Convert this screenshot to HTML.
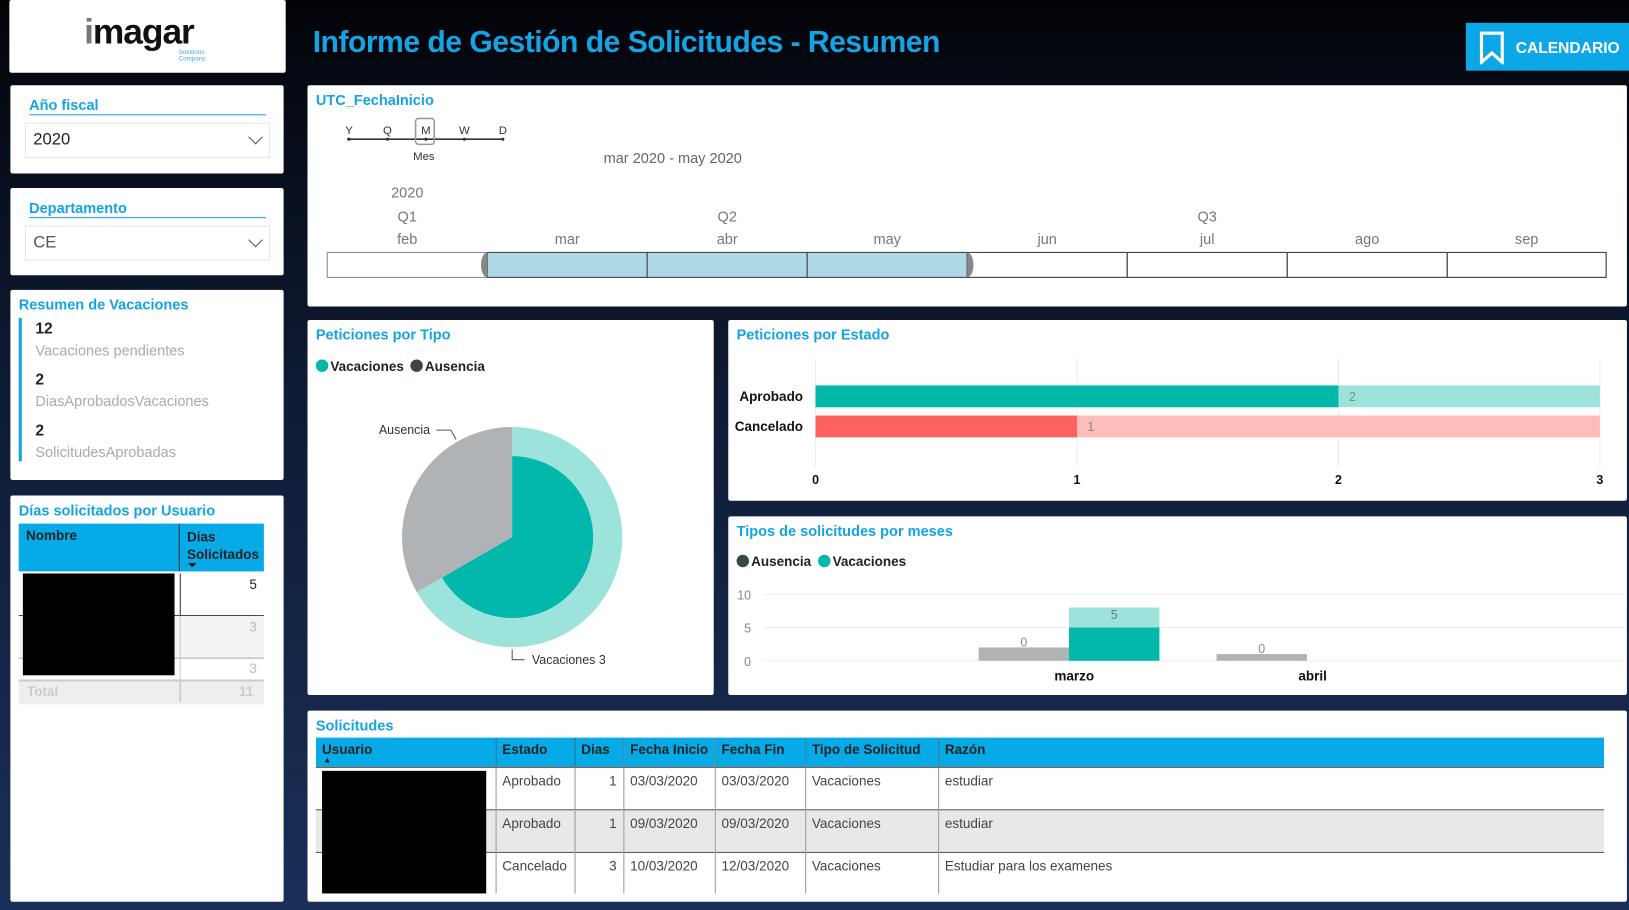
<!DOCTYPE html>
<html><head><meta charset="utf-8">
<style>
html,body{margin:0;padding:0;width:1629px;height:910px;overflow:hidden;background:#0b1426;}
#stage{position:absolute;left:0;top:0;width:1568px;height:876px;transform:scale(1.0389);transform-origin:0 0;
 background:linear-gradient(180deg,#020307 0%,#060b16 12%,#0f1c36 45%,#1a2f58 100%);
 font-family:"Liberation Sans",sans-serif;color:#222;}
.abs{position:absolute;}
.panel{position:absolute;background:#fff;border-radius:2px;}
.ptitle{position:absolute;left:8px;top:6px;font-size:14px;font-weight:bold;color:#14a4e4;}
.slicer-title{position:absolute;left:18px;top:11px;width:228px;border-bottom:1px solid #14a4e4;font-size:14px;font-weight:bold;color:#14a4e4;padding-bottom:1px;}
.dd{position:absolute;left:14px;top:36px;width:234px;height:32px;border:1px solid #e5e5e5;font-size:16px;line-height:32px;text-indent:7px;}
.chev{position:absolute;right:8px;top:8px;width:9px;height:9px;border-right:1.5px solid #555;border-bottom:1.5px solid #555;transform:rotate(45deg);}
table{border-collapse:collapse;}
</style></head><body>
<div id="stage">
  <div class="panel" style="left:9px;top:0;width:266px;height:70px;">
    <div class="abs" style="left:72px;top:12px;font-size:34px;font-weight:bold;color:#111;letter-spacing:-1px;"><span style="color:#777">i</span>magar</div>
    <div class="abs" style="left:163px;top:48px;font-size:6px;color:#4aa6dd;line-height:6px;">Solutions<br>Company</div>
  </div>
  <div class="abs" style="left:301px;top:25px;font-size:29px;font-weight:bold;color:#14a4e4;white-space:nowrap;letter-spacing:-0.5px;">Informe de Gestión de Solicitudes - Resumen</div>
  <div class="abs" style="left:1411px;top:22px;width:157px;height:46px;background:#0ba7e6;">
    <svg class="abs" style="left:13px;top:8px" width="24" height="32"><path d="M2 2 H22 V30 L12 21 L2 30 Z" fill="none" stroke="#fff" stroke-width="3"/></svg>
    <div class="abs" style="left:48px;top:16px;font-size:15px;font-weight:bold;color:#fff;">CALENDARIO</div>
  </div>

  <div class="panel" style="left:10px;top:82px;width:263px;height:85px;">
    <div class="slicer-title">Año fiscal</div>
    <div class="dd">2020<div class="chev"></div></div>
  </div>
  <div class="panel" style="left:10px;top:181px;width:263px;height:84px;">
    <div class="slicer-title">Departamento</div>
    <div class="dd" style="color:#555">CE<div class="chev"></div></div>
  </div>

  <div class="panel" style="left:10px;top:279px;width:263px;height:183px;">
    <div class="ptitle">Resumen de Vacaciones</div>
    <div class="abs" style="left:8px;top:27px;width:3px;height:138px;background:#14a4e4;"></div>
    <div class="abs" style="left:24px;top:29px;font-size:15px;font-weight:bold;">12</div>
    <div class="abs" style="left:24px;top:50px;font-size:14px;color:#aaa;">Vacaciones pendientes</div>
    <div class="abs" style="left:24px;top:78px;font-size:15px;font-weight:bold;">2</div>
    <div class="abs" style="left:24px;top:99px;font-size:14px;color:#aaa;">DiasAprobadosVacaciones</div>
    <div class="abs" style="left:24px;top:127px;font-size:15px;font-weight:bold;">2</div>
    <div class="abs" style="left:24px;top:148px;font-size:14px;color:#aaa;">SolicitudesAprobadas</div>
  </div>

  <div class="panel" style="left:10px;top:477px;width:263px;height:391px;">
    <div class="ptitle">Días solicitados por Usuario</div>
    <div class="abs" style="left:8px;top:27px;width:236px;height:46px;background:#05aae6;">
      <div class="abs" style="left:7px;top:4px;font-size:13px;font-weight:bold;">Nombre</div>
      <div class="abs" style="left:154px;top:0;width:1px;height:46px;background:#333;"></div>
      <div class="abs" style="left:162px;top:4px;font-size:13px;font-weight:bold;line-height:17px;">Dias<br>Solicitados</div>
      <div class="abs" style="left:163px;top:38px;width:0;height:0;border-left:4px solid transparent;border-right:4px solid transparent;border-top:4px solid #111;"></div>
    </div>
    <div class="abs" style="left:163px;top:75px;width:1px;height:40px;background:#333;"></div>
    <div class="abs" style="left:8px;top:115px;width:236px;height:1px;background:#444;"></div>
    <div class="abs" style="left:8px;top:116px;width:236px;height:40px;background:#f3f3f3;"></div>
    <div class="abs" style="left:8px;top:156px;width:236px;height:1px;background:#aaa;"></div>
    <div class="abs" style="left:163px;top:116px;width:1px;height:62px;background:#ccc;"></div>
    <div class="abs" style="left:8px;top:177px;width:236px;height:22px;background:#eee;border-top:2px solid #ccc;"></div>
    <div class="abs" style="left:163px;top:179px;width:1px;height:20px;background:#bbb;"></div>
    <div class="abs" style="left:16px;top:181px;font-size:13px;color:#ccc;font-weight:bold;">Total</div>
    <div class="abs" style="left:220px;top:181px;font-size:13px;color:#ccc;font-weight:bold;">11</div>
    <div class="abs" style="left:230px;top:78px;font-size:13px;">5</div>
    <div class="abs" style="left:230px;top:119px;font-size:13px;color:#bbb;">3</div>
    <div class="abs" style="left:230px;top:159px;font-size:13px;color:#bbb;">3</div>
    <div class="abs" style="left:12px;top:75px;width:146px;height:98px;background:#000;"></div>
  </div>

  <div class="panel" style="left:296px;top:82px;width:1270px;height:213px;">
    <div class="ptitle">UTC_FechaInicio</div>
    <div class="abs" style="left:285px;top:62px;font-size:14px;color:#666;">mar 2020 - may 2020</div>
    <svg id="tl" class="abs" style="left:0;top:0" width="1270" height="213"></svg>
  </div>

  <div class="panel" style="left:296px;top:308px;width:391px;height:361px;">
    <div class="ptitle">Peticiones por Tipo</div>
    <svg id="pie" class="abs" style="left:0;top:0" width="391" height="361"></svg>
  </div>

  <div class="panel" style="left:701px;top:308px;width:865px;height:174px;">
    <div class="ptitle">Peticiones por Estado</div>
    <svg id="bar" class="abs" style="left:0;top:0" width="865" height="174"></svg>
  </div>

  <div class="panel" style="left:701px;top:497px;width:865px;height:172px;">
    <div class="ptitle">Tipos de solicitudes por meses</div>
    <svg id="col" class="abs" style="left:0;top:0" width="865" height="172"></svg>
  </div>

  <div class="panel" style="left:296px;top:684px;width:1270px;height:184px;">
    <div class="ptitle">Solicitudes</div>
    <div id="tbl" class="abs" style="left:8px;top:26px;width:1240px;"></div>
  </div>
</div>
<script>
const NS="http://www.w3.org/2000/svg";
function mk(p,t,a,txt){const e=document.createElementNS(NS,t);for(const k in a)e.setAttribute(k,a[k]);if(txt!==undefined)e.textContent=txt;p.appendChild(e);return e;}

const months=["feb","mar","abr","may","jun","jul","ago","sep"];
const selStart=1, selEnd=3;
const quarterLabels=[["Q1",0],["Q2",2],["Q3",5]];

const pieCats=["Vacaciones","Ausencia"];
const pieVals=[3,1.5];
const pieHighlight=[2,1.5];

const estadoCats=["Aprobado","Cancelado"];
const estadoVals=[2,1];
const estadoTotal=[3,3];
const estadoTicks=[0,1,2,3];

const mesCats=["marzo","abril"];
const ausenciaVals=[2,1];
const vacacionesVals=[5,0];
const vacacionesTotal=[8,0];
const ausenciaLabels=[0,0];
const mesTicks=[0,5,10];

const tHead=["Usuario","Estado","Dias","Fecha Inicio","Fecha Fin","Tipo de Solicitud","Razón"];
const tRows=[["","Aprobado","1","03/03/2020","03/03/2020","Vacaciones","estudiar"],
 ["","Aprobado","1","09/03/2020","09/03/2020","Vacaciones","estudiar"],
 ["","Cancelado","3","10/03/2020","12/03/2020","Vacaciones","Estudiar para los examenes"]];

(function(){
 const s=document.getElementById('tl');
 const y0=161, h=24;
 const x0=19, first=154, cw=154;
 const starts=[], ends=[];
 for(let i=0;i<months.length;i++){starts.push(x0+i*cw);ends.push(Math.min(x0+(i+1)*cw,1250));}
 const bg=mk(s,'rect',{x:19,y:y0,width:1231,height:h,fill:'#fff',stroke:'#888'});
 
 
 for(let i=0;i<months.length;i++){
  const sel=i>=selStart&&i<=selEnd;
  const cx=(starts[i]+ends[i])/2;
  const r=mk(s,'rect',{x:starts[i],y:y0,width:ends[i]-starts[i],height:h,fill:sel?'#add8e6':'none',stroke:(i>=4||sel)?'#444':'none','stroke-width':1});
  
  
  const t=mk(s,'text',{x:cx,y:153,'text-anchor':'middle','font-size':14,fill:'#777'},months[i]);
  
  
 }
 quarterLabels.forEach(q=>{const i=q[1];const cx=(starts[i]+ends[i])/2;
  const t=mk(s,'text',{x:cx,y:131,'text-anchor':'middle','font-size':14,fill:'#777'},q[0]);
  
  });
 const yt=mk(s,'text',{x:(starts[0]+ends[0])/2,y:108,'text-anchor':'middle','font-size':14,fill:'#777'},'2020');
 
 
 [starts[selStart],ends[selEnd]].forEach((hx,k)=>{
  const p=mk(s,'path',{d:k==0?`M${hx} ${y0} A6 12 0 0 0 ${hx} ${y0+h} Z`:`M${hx} ${y0} A6 12 0 0 1 ${hx} ${y0+h} Z`,fill:'#888'});
  
  
 });
 const gl=["Y","Q","M","W","D"];
 mk(s,'line',{x1:38,y1:52,x2:188,y2:52,stroke:'#333','stroke-width':1.5});
 gl.forEach((g,i)=>{const gx=40+i*37;
  mk(s,'circle',{cx:gx,cy:52,r:1.5,fill:'#333'});
  const t=mk(s,'text',{x:gx,y:47,'text-anchor':'middle','font-size':11,fill:'#333'},g);
  
  });
 mk(s,'rect',{x:104,y:32,width:18,height:25,rx:3,fill:'none',stroke:'#999','stroke-width':1.5});
 mk(s,'text',{x:112,y:72,'text-anchor':'middle','font-size':11,fill:'#333'},'Mes');
})();

(function(){
 const s=document.getElementById('pie');
 const cx=197,cy=209,R=106;
 const total=pieVals.reduce((a,b)=>a+b,0);
 const leg=[["Vacaciones","#01b8aa"],["Ausencia","#374649"]];
 let lx=8;
 leg.forEach(l=>{mk(s,'circle',{cx:lx+6,cy:44,r:6,fill:l[1]});
  const t=mk(s,'text',{x:lx+14,y:49,'font-size':13,'font-weight':'bold',fill:'#222'},l[0]);
  
  
  lx+=14+l[0].length*7.3+4;});
 const pt=(a,r)=>[cx+r*Math.sin(a),cy-r*Math.cos(a)];
 function arc(a0,a1,r,fill,name){const p0=pt(a0,r),p1=pt(a1,r),lg=(a1-a0)>Math.PI?1:0;
  const e=mk(s,'path',{d:`M${cx} ${cy} L${p0[0]} ${p0[1]} A${r} ${r} 0 ${lg} 1 ${p1[0]} ${p1[1]} Z`,fill:fill});
  
  }
 let a=0;
 const colors=['#9ce3dc','#b0b3b5'];
 const spans=[];
 pieVals.forEach((v,i)=>{const da=v/total*2*Math.PI;spans.push([a,a+da]);arc(a,a+da,R,colors[i],'slice-'+pieCats[i].toLowerCase());a+=da;});
 const rin=R*Math.sqrt(pieHighlight[0]/pieVals[0])*0.9;
 arc(spans[0][0],spans[0][1],rin,'#01b8aa','slice-vacaciones-highlight');
 mk(s,'polyline',{points:'143,115 138,106 124,106',fill:'none',stroke:'#555'});
 mk(s,'text',{x:118,y:110,'text-anchor':'end','font-size':12,fill:'#333'},'Ausencia');
 mk(s,'polyline',{points:'197,317 197,327 209,327',fill:'none',stroke:'#555'});
 mk(s,'text',{x:216,y:331,'font-size':12,fill:'#333'},'Vacaciones '+pieVals[0]);
})();

(function(){
 const s=document.getElementById('bar');
 const x=v=>84+v*(839-84)/3;
 estadoTicks.forEach(t=>{mk(s,'line',{x1:x(t),y1:37,x2:x(t),y2:142,stroke:'#eee'});
  const e=mk(s,'text',{x:x(t),y:158,'text-anchor':'middle','font-size':12,'font-weight':'bold',fill:'#111'},t);
  
  });
 const cols=[['#01b8aa','#9ce3dc'],['#fd625e','#fdbdbb']];
 estadoCats.forEach((c,i)=>{const y=63+i*29,h=21;
  const b2=mk(s,'rect',{x:x(0),y:y,width:x(estadoTotal[i])-x(0),height:h,fill:cols[i][1]});
  
  
  const b=mk(s,'rect',{x:x(0),y:y,width:x(estadoVals[i])-x(0),height:h,fill:cols[i][0]});
  
  
  mk(s,'text',{x:x(estadoVals[i])+10,y:y+15,'font-size':12,fill:'#888'},estadoVals[i]);
  const l=mk(s,'text',{x:72,y:y+15,'text-anchor':'end','font-size':13,'font-weight':'bold',fill:'#111'},c);
  
  });
})();

(function(){
 const s=document.getElementById('col');
 const y=v=>139-v*(139-75)/10;
 const leg=[["Ausencia","#374649"],["Vacaciones","#01b8aa"]];let lx=8;
 leg.forEach(l=>{mk(s,'circle',{cx:lx+6,cy:43,r:6,fill:l[1]});
  const t=mk(s,'text',{x:lx+14,y:48,'font-size':13,'font-weight':'bold',fill:'#222'},l[0]);
  
  
  lx+=14+l[0].length*7.3+6;});
 mesTicks.forEach(t=>{mk(s,'line',{x1:34,y1:y(t),x2:862,y2:y(t),stroke:'#eee'});
  const e=mk(s,'text',{x:22,y:y(t)+5,'text-anchor':'end','font-size':12,fill:'#888'},t);
  
  });
 const cx=[328,557],bw=87;
 mesCats.forEach((m,i)=>{
  const a=mk(s,'rect',{x:cx[i]-bw,y:y(ausenciaVals[i]),width:bw,height:y(0)-y(ausenciaVals[i]),fill:'#b0b3b5'});
  
  
  mk(s,'text',{x:cx[i]-bw/2,y:y(ausenciaVals[i])-1,'text-anchor':'middle','font-size':12,fill:'#888'},ausenciaLabels[i]);
  if(vacacionesTotal[i]>0){
   const t=mk(s,'rect',{x:cx[i],y:y(vacacionesTotal[i]),width:bw,height:y(0)-y(vacacionesTotal[i]),fill:'#9ce3dc'});
   
   
   const v=mk(s,'rect',{x:cx[i],y:y(vacacionesVals[i]),width:bw,height:y(0)-y(vacacionesVals[i]),fill:'#01b8aa'});
   
   
   mk(s,'text',{x:cx[i]+bw/2,y:y(vacacionesTotal[i])+11,'text-anchor':'middle','font-size':12,fill:'#777'},vacacionesVals[i]);}
  const l=mk(s,'text',{x:cx[i]+(vacacionesTotal[i]>0?5:-bw/2+49),y:158,'text-anchor':'middle','font-size':13,'font-weight':'bold',fill:'#111'},m);
  
  });
})();

(function(){
 const w=[173,76,47,88,87,128,641];
 const d=document.getElementById('tbl');
 let h='<table style="width:1240px;table-layout:fixed;font-size:13px;"><colgroup>'+w.map(x=>'<col style="width:'+x+'px">').join('')+'</colgroup>';
 h+='<tr style="background:#05aae6;height:28px;border-bottom:1px solid #333">'+tHead.map((c,i)=>'<th style="text-align:left;vertical-align:top;padding:4px 6px 0;font-weight:bold;white-space:nowrap;overflow:hidden;border-left:'+(i?'1px solid #2a6f8f':'0')+';position:relative">'+c+(i==0?'<span style="position:absolute;left:7px;top:17px;font-size:8px">&#9650;</span>':'')+'</th>').join('')+'</tr>';
 tRows.forEach((r,ri)=>{h+='<tr style="height:'+(ri==2?40:41)+'px;background:'+(ri==1?'#e8e8e8':'#fff')+';border-bottom:'+(ri<2?'1px solid #555':'0')+'">'+r.map((c,i)=>'<td style="vertical-align:top;padding:5px 6px 0;color:#444;white-space:nowrap;overflow:hidden;border-left:'+(i?'1px solid #999':'0')+';text-align:'+(i==2?'right':'left')+'">'+c+'</td>').join('')+'</tr>';});
 h+='</table>';
 d.innerHTML=h;
 const bx=document.createElement('div');
 bx.style.cssText='position:absolute;left:6px;top:32px;width:158px;height:118px;background:#000';
 
 
 d.appendChild(bx);
})();
</script>
</body></html>
